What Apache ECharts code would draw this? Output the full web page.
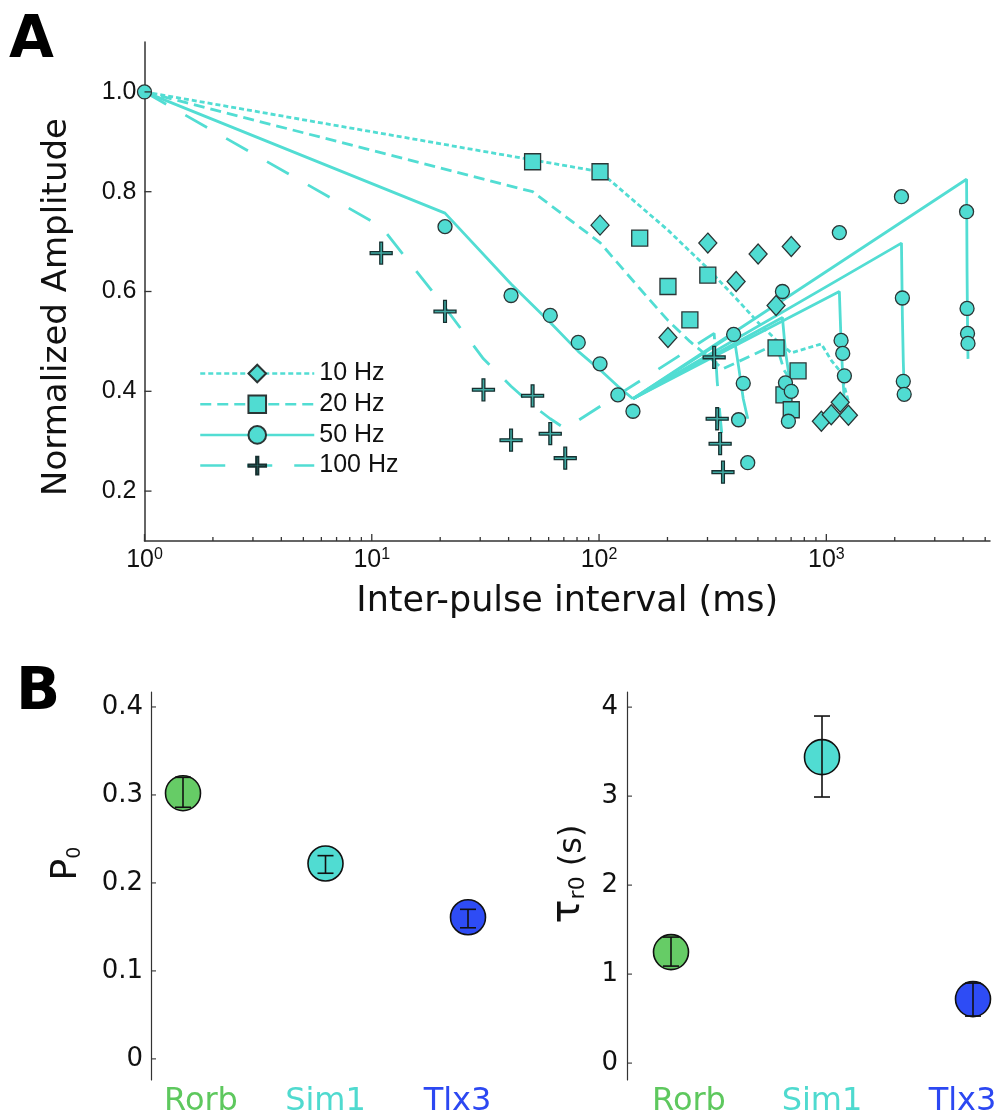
<!DOCTYPE html>
<html><head><meta charset="utf-8">
<script src="https://cdn.jsdelivr.net/npm/echarts@6/dist/echarts.min.js"></script>
<style>html,body{margin:0;padding:0;background:#fff}#c{width:996px;height:1118px}</style>
</head><body><div id="c"></div>
<script>
// ---------------- Panel A data (inter-pulse interval in ms, normalized amplitude) ----------------
// 10 Hz: train + one recovery train
const t10 = [1, 101, 201, 301, 401, 501, 601, 701, 951, 1051, 1151, 1251];
const model10 = [1.0, 0.84, 0.723, 0.646, 0.586, 0.538, 0.503, 0.477, 0.495, 0.462, 0.44, 0.38];
const data10 = [null, 0.733, 0.508, 0.697, 0.62, 0.675, 0.572, 0.69, 0.34, 0.353, 0.378, 0.352];
// 20 Hz
const t20 = [1, 51, 101, 151, 201, 251, 301, 351, 601, 651, 701, 751];
const model20 = [1.0, 0.80, 0.698, 0.606, 0.542, 0.50, 0.47, 0.445, 0.495, 0.443, 0.42, 0.40];
const data20 = [null, 0.86, 0.84, 0.707, 0.61, 0.543, 0.633, null, 0.487, 0.393, 0.363, 0.441];
// 50 Hz: induction train
const t50 = [1, 21, 41, 61, 81, 101, 121, 141];
const model50 = [1.0, 0.757, 0.615, 0.538, 0.48, 0.443, 0.41, 0.385];
const data50 = [1.0, 0.73, 0.592, 0.552, 0.498, 0.455, 0.393, 0.36];
// 50 Hz: recovery trains
const t50rec = [
  [391, 411, 431, 451],
  [641, 661, 681, 701],
  [1141, 1161, 1181, 1201],
  [2141, 2161, 2181, 2201],
  [4141, 4161, 4181, 4201]
];
const model50rec = [
  [0.515, 0.45, 0.385, 0.345],
  [0.548, 0.48, 0.44, 0.415],
  [0.60, 0.50, 0.43, 0.38],
  [0.697, 0.55, 0.46, 0.40],
  [0.825, 0.64, 0.53, 0.465]
];
const data50rec = [
  [0.514, 0.343, 0.416, 0.257],
  [0.60, 0.417, 0.34, 0.40],
  [0.718, 0.502, 0.476, 0.431],
  [0.79, 0.587, 0.42, 0.394],
  [0.76, 0.566, 0.516, 0.496]
];
// 100 Hz
const t100 = [1, 11, 21, 31, 41, 51, 61, 71, 321, 331, 341, 351];
const model100 = [1.0, 0.73, 0.568, 0.465, 0.41, 0.372, 0.345, 0.325, 0.516, 0.42, 0.35, 0.29];
const data100 = [null, 0.677, 0.56, 0.403, 0.302, 0.391, 0.315, 0.266, 0.468, 0.345, 0.295, 0.238];

const legendNames = ['10 Hz', '20 Hz', '50 Hz', '100 Hz'];
const xMajorTicks = [1, 10, 100, 1000];
const yTicksA = [0.2, 0.4, 0.6, 0.8, 1.0];

// ---------------- Panel B data ----------------
const lines = ['Rorb', 'Sim1', 'Tlx3'];
const p0 = [0.302, 0.222, 0.161];
const p0Lo = [0.286, 0.211, 0.149];
const p0Hi = [0.320, 0.231, 0.170];
const tau = [1.247, 3.438, 0.719];
const tauLo = [1.09, 2.99, 0.528];
const tauHi = [1.416, 3.90, 0.899];
const yTicksB1 = [0, 0.1, 0.2, 0.3, 0.4];
const yTicksB2 = [0, 1, 2, 3, 4];

// ---------------- styles ----------------
const FILL = '#50DCD2';
const LINE = '#52DDD3';
const EDGE = '#2b3535';
const AX = '#333';
const lineColors = ['#5EC85E', '#4FDACF', '#2C48F2'];
const dotColors = ['#66CC66', '#50DCD2', '#2E4CF5'];
const PLUS = 'path://M-1.4,-11L1.4,-11L1.4,-1.4L11,-1.4L11,1.4L1.4,1.4L1.4,11L-1.4,11L-1.4,1.4L-11,1.4L-11,-1.4L-1.4,-1.4Z';

const xMinorTicks = [];
for (let d = 1; d <= 1000; d *= 10) for (let m = 2; m <= 9; m++) if (m * d <= 5250) xMinorTicks.push(m * d);

function pairs(xs, ys) {
  const out = [];
  for (let i = 0; i < xs.length; i++) if (ys[i] != null) out.push([xs[i], ys[i]]);
  return out;
}
function modelLine(name, data, symbol, size, dash, fill, edge) {
  return {
    type: 'line', name: name, xAxisIndex: 0, yAxisIndex: 0, data: data,
    showSymbol: false, symbol: symbol, symbolSize: size, silent: true, z: 2,
    itemStyle: { color: fill || FILL, borderColor: edge || EDGE, borderWidth: 1.3, opacity: 1 },
    lineStyle: { color: LINE, width: 2.8, type: dash },
    emphasis: { disabled: true }
  };
}
function scatter(name, data, symbol, size, z, fill, border) {
  return {
    type: 'scatter', name: name, xAxisIndex: 0, yAxisIndex: 0, data: data,
    symbol: symbol, symbolSize: size, z: z, silent: true,
    itemStyle: { color: fill || FILL, borderColor: border || EDGE, borderWidth: 1.3, opacity: 1 }
  };
}
function xTicks(values, len) {
  return {
    type: 'custom', xAxisIndex: 0, yAxisIndex: 0, silent: true, clip: false, z: 10,
    data: values.map(v => [v, 0.5]),
    renderItem: (params, api) => {
      const cs = params.coordSys;
      const x = api.coord([api.value(0), 0.5])[0];
      const yb = cs.y + cs.height;
      return { type: 'line', shape: { x1: x, y1: yb, x2: x, y2: yb - len }, style: { stroke: AX, lineWidth: 1.3 } };
    }
  };
}
function yTicks(xi, yi, values, xval, offset, len, width) {
  return {
    type: 'custom', xAxisIndex: xi, yAxisIndex: yi, silent: true, clip: false, z: 10,
    data: values.map(v => [xval, v]),
    renderItem: (params, api) => {
      const cs = params.coordSys;
      const y = api.coord([xval, api.value(1)])[1];
      const x = cs.x - offset;
      return { type: 'line', shape: { x1: x, y1: y, x2: x + len, y2: y }, style: { stroke: AX, lineWidth: width } };
    }
  };
}
function errBars(xi, yi, lo, hi) {
  return {
    type: 'custom', xAxisIndex: xi, yAxisIndex: yi, silent: true, clip: false, z: 12,
    data: lo.map((v, i) => [i, v, hi[i]]),
    renderItem: (params, api) => {
      const a = api.coord([api.value(0), api.value(1)]);
      const b = api.coord([api.value(0), api.value(2)]);
      const w = 8;
      const st = { stroke: '#111', lineWidth: 1.6 };
      return { type: 'group', children: [
        { type: 'line', shape: { x1: a[0], y1: a[1], x2: b[0], y2: b[1] }, style: st },
        { type: 'line', shape: { x1: a[0] - w, y1: a[1], x2: a[0] + w, y2: a[1] }, style: st },
        { type: 'line', shape: { x1: b[0] - w, y1: b[1], x2: b[0] + w, y2: b[1] }, style: st }
      ] };
    }
  };
}

const PLUS_FILL = '#3fa9a2';
const PLUS_EDGE = '#173030';
const series = [];
series.push(modelLine('10 Hz', pairs(t10, model10), 'diamond', [18, 20], [5, 3]));
series.push(modelLine('20 Hz', pairs(t20, model20), 'rect', 16, [11, 6]));
series.push(modelLine('50 Hz', pairs(t50, model50), 'circle', 14, 'solid'));
series.push(modelLine('100 Hz', pairs(t100, model100), PLUS, 22, [25, 22], PLUS_FILL, PLUS_EDGE));
t50rec.forEach((ts, k) => {
  const start = [[t50[t50.length - 1], model50[model50.length - 1]]];
  series.push(modelLine('50 Hz', start.concat(pairs(ts, model50rec[k])), 'none', 0, 'solid'));
});
let pts50 = pairs(t50, data50);
t50rec.forEach((ts, k) => { pts50 = pts50.concat(pairs(ts, data50rec[k])); });
series.push(scatter('20 Hz data', pairs(t20, data20), 'rect', 16, 3));
series.push(scatter('10 Hz data', pairs(t10, data10), 'diamond', [18, 20], 4));
series.push(scatter('50 Hz data', pts50, 'circle', 14, 5));
series.push(scatter('100 Hz data', pairs(t100, data100), PLUS, 22, 6, PLUS_FILL, PLUS_EDGE));
series.push(xTicks(xMajorTicks, 7));
series.push(xTicks(xMinorTicks, 4));
series.push(yTicks(0, 0, yTicksA, 1, 0, 7, 1.3));

// Panel B
series.push({
  type: 'scatter', xAxisIndex: 1, yAxisIndex: 1, symbolSize: 35, z: 5, silent: true,
  data: p0.map((v, i) => ({ value: [i, v], itemStyle: { color: dotColors[i], opacity: 1 } })),
  itemStyle: { borderColor: '#111', borderWidth: 1.6, opacity: 1 }
});
series.push(errBars(1, 1, p0Lo, p0Hi));
series.push({
  type: 'scatter', xAxisIndex: 2, yAxisIndex: 2, symbolSize: 35, z: 5, silent: true,
  data: tau.map((v, i) => ({ value: [i, v], itemStyle: { color: dotColors[i], opacity: 1 } })),
  itemStyle: { borderColor: '#111', borderWidth: 1.6, opacity: 1 }
});
series.push(errBars(2, 2, tauLo, tauHi));
series.push(yTicks(1, 1, yTicksB1, 0, 32, 5, 1.1));
series.push(yTicks(2, 2, yTicksB2, 0, 44, 5, 1.1));

const catLabel = {
  margin: 6, fontFamily: 'DejaVu Sans', fontSize: 32, interval: 0, hideOverlap: false,
  formatter: v => '{' + ['r', 's', 't'][lines.indexOf(v)] + '|' + v + '}',
  rich: {
    r: { color: lineColors[0], fontFamily: 'DejaVu Sans', fontSize: 32, padding: [0, 0, 0, 36] },
    s: { color: lineColors[1], fontFamily: 'DejaVu Sans', fontSize: 32 },
    t: { color: lineColors[2], fontFamily: 'DejaVu Sans', fontSize: 32, padding: [0, 21, 0, 0] }
  }
};

const option = {
  animation: false,
  backgroundColor: '#fff',
  graphic: [
    { type: 'text', left: 9, top: 13, style: { text: 'A', font: 'bold 58px "DejaVu Sans"', fill: '#000' } },
    { type: 'text', left: 16, top: 665, style: { text: 'B', font: 'bold 58px "DejaVu Sans"', fill: '#000' } }
  ],
  legend: {
    orient: 'vertical', left: 199, top: 361, padding: 0,
    itemWidth: 114, itemHeight: 22, itemGap: 5.7, selectedMode: false,
    data: legendNames,
    textStyle: { fontFamily: 'Liberation Sans', fontSize: 25, color: '#111', lineHeight: 25 },
    lineStyle: { width: 2.5 }
  },
  grid: [
    { left: 144.5, right: 6, top: 42, bottom: 577, containLabel: false, outerBoundsMode: 'none' },
    { left: 183, right: 528, top: 692, bottom: 38, containLabel: false, outerBoundsMode: 'none' },
    { left: 671, right: 23, top: 692, bottom: 38, containLabel: false, outerBoundsMode: 'none' }
  ],
  xAxis: [
    {
      gridIndex: 0, type: 'log', logBase: 10, min: 1, max: 5250,
      axisLine: { lineStyle: { color: AX, width: 1.5 } },
      axisTick: { show: false }, splitLine: { show: false }, minorTick: { show: false },
      axisLabel: {
        margin: 6, color: '#111',
        formatter: v => {
          const e = Math.log10(v);
          if (Math.abs(e - Math.round(e)) > 1e-6) return '';
          return '{b|10}{s|' + Math.round(e) + '}';
        },
        rich: {
          b: { fontFamily: 'Liberation Sans', fontSize: 25, color: '#111', lineHeight: 26 },
          s: { fontFamily: 'Liberation Sans', fontSize: 16, color: '#111', lineHeight: 15, verticalAlign: 'top' }
        }
      },
      name: 'Inter-pulse interval (ms)', nameLocation: 'middle', nameGap: 43,
      nameTextStyle: { fontFamily: 'DejaVu Sans', fontSize: 35, color: '#111' }
    },
    {
      gridIndex: 1, type: 'category', data: lines, boundaryGap: false,
      axisLine: { show: false }, axisTick: { show: false }, splitLine: { show: false },
      axisLabel: catLabel
    },
    {
      gridIndex: 2, type: 'category', data: lines, boundaryGap: false,
      axisLine: { show: false }, axisTick: { show: false }, splitLine: { show: false },
      axisLabel: catLabel
    }
  ],
  yAxis: [
    {
      gridIndex: 0, type: 'value', min: 0.1, max: 1.1,
      axisLine: { show: true, lineStyle: { color: AX, width: 1.5 } },
      axisTick: { show: false }, splitLine: { show: false },
      axisLabel: {
        margin: 8, fontFamily: 'Liberation Sans', fontSize: 25, color: '#111',
        formatter: v => (Math.abs(v * 5 - Math.round(v * 5)) < 1e-6 ? v.toFixed(1) : '')
      },
      name: 'Normalized Amplitude', nameLocation: 'middle', nameGap: 70,
      nameTextStyle: { fontFamily: 'DejaVu Sans', fontSize: 34, color: '#111', padding: [0, 31, 0, 0] }
    },
    {
      gridIndex: 1, type: 'value', min: -0.024, max: 0.417, offset: 32,
      axisLine: { show: true, lineStyle: { color: AX, width: 1.2 } },
      axisTick: { show: false }, splitLine: { show: false },
      axisLabel: {
        margin: 8, fontFamily: 'DejaVu Sans', fontSize: 26, color: '#111',
        formatter: v => {
          if (v < -1e-9 || Math.abs(v * 10 - Math.round(v * 10)) > 1e-6) return '';
          return Math.abs(v) < 1e-9 ? '0' : v.toFixed(1);
        }
      },
      name: '{p|P}{s|0}', nameLocation: 'middle', nameGap: 66,
      nameTextStyle: {
        padding: [0, 0, 0, 45],
        rich: {
          p: { fontFamily: 'DejaVu Sans', fontSize: 36, lineHeight: 36, color: '#111', verticalAlign: 'bottom' },
          s: { fontFamily: 'DejaVu Sans', fontSize: 19, lineHeight: 19, color: '#111', verticalAlign: 'bottom' }
        }
      }
    },
    {
      gridIndex: 2, type: 'value', min: -0.19, max: 4.17, offset: 44,
      axisLine: { show: true, lineStyle: { color: AX, width: 1.2 } },
      axisTick: { show: false }, splitLine: { show: false },
      axisLabel: {
        margin: 9, fontFamily: 'DejaVu Sans', fontSize: 26, color: '#111',
        formatter: v => (v < -1e-9 || Math.abs(v - Math.round(v)) > 1e-6 ? '' : String(Math.round(v)))
      },
      name: '{t|τ}{r|r0}{p| (s)}', nameLocation: 'middle', nameGap: 38,
      nameTextStyle: {
        padding: [0, 0, 0, 24],
        rich: {
          t: { fontFamily: 'DejaVu Sans', fontSize: 40, lineHeight: 40, color: '#111', verticalAlign: 'bottom' },
          r: { fontFamily: 'DejaVu Sans', fontSize: 22, lineHeight: 22, color: '#111', verticalAlign: 'bottom' },
          p: { fontFamily: 'DejaVu Sans', fontSize: 32, lineHeight: 32, color: '#111', verticalAlign: 'bottom' }
        }
      }
    }
  ],
  series: series
};

const chart = echarts.init(document.getElementById('c'), null, { renderer: 'canvas' });
chart.setOption(option);
</script>
</body></html>
